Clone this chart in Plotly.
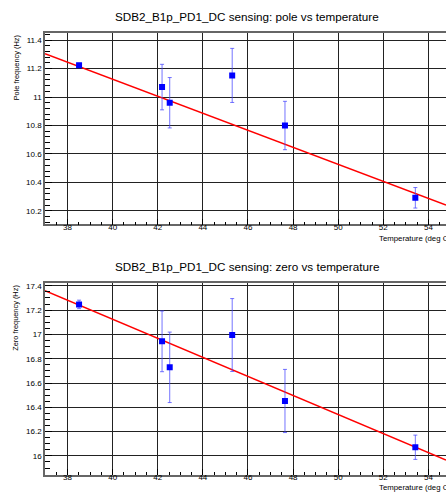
import plotly.graph_objects as go

# ---- data ----
temperature = [38.51, 42.19, 42.53, 45.30, 47.64, 53.42]
pole_freq = [11.224, 11.07, 10.96, 11.152, 10.80, 10.292]
pole_err = [0.013, 0.16, 0.177, 0.19, 0.17, 0.072]
zero_freq = [17.247, 16.943, 16.729, 16.995, 16.452, 16.071]
zero_err = [0.035, 0.25, 0.29, 0.30, 0.26, 0.10]
pole_fit = [13.5176, -0.0598]   # intercept, slope
zero_fit = [20.2598, -0.0784]
x_range = [37.0, 54.78]
pole_range = [10.105, 11.451]
zero_range = [15.842, 17.422]

W, H = 446, 493
L = 45
def px_x(p):
    return (p - L) / (W - L)
def px_y(p):
    return 1 - p / H

fig = go.Figure()

top_dom = [px_y(223.3), px_y(31)]
bot_dom = [px_y(475), px_y(282.3)]

def add_panel(xa, ya, yvals, yerr, fit):
    fx = x_range
    fy = [fit[0] + fit[1] * v for v in fx]
    fig.add_trace(go.Scatter(x=fx, y=fy, mode="lines", line=dict(color="#ff0000", width=1.5),
                             xaxis=xa, yaxis=ya, showlegend=False, hoverinfo="skip"))
    fig.add_trace(go.Scatter(x=temperature, y=yvals, mode="markers",
                             marker=dict(symbol="square", size=6, color="#0000ff"),
                             error_y=dict(type="data", array=yerr, color="rgba(70,70,255,0.75)",
                                          thickness=1, width=2),
                             xaxis=xa, yaxis=ya, showlegend=False))

add_panel("x", "y", pole_freq, pole_err, pole_fit)
add_panel("x2", "y2", zero_freq, zero_err, zero_fit)

FONT = "Liberation Sans, Arial, sans-serif"
tickfont = dict(family=FONT, size=8, color="#000")
xcommon = dict(range=x_range, showgrid=True, gridcolor="#222", gridwidth=1,
               tick0=38, dtick=2, ticks="inside", ticklen=6, tickcolor="#000",
               ticklabelstandoff=-6,
               minor=dict(dtick=0.5, ticks="inside", ticklen=3, tickcolor="#000", showgrid=False),
               showline=True, linecolor="#666", linewidth=1.5, mirror=True,
               zeroline=False, tickfont=tickfont, fixedrange=True)
ycommon = dict(showgrid=True, gridcolor="#222", gridwidth=1, dtick=0.2, tick0=0,
               ticks="inside", ticklen=7, tickcolor="#000",
               showline=True, linecolor="#666", linewidth=1.5, mirror=False,
               zeroline=False, tickfont=tickfont, fixedrange=True)

fig.update_layout(
    width=W, height=H,
    margin=dict(l=L, r=0, t=0, b=0),
    paper_bgcolor="white", plot_bgcolor="white",
    xaxis=dict(domain=[0, 1], anchor="y", **xcommon),
    yaxis=dict(domain=top_dom, anchor="x", range=pole_range,
               minor=dict(dtick=0.04, ticks="inside", ticklen=5, tickcolor="#000", showgrid=False),
               **ycommon),
    xaxis2=dict(domain=[0, 1], anchor="y2", **xcommon),
    yaxis2=dict(domain=bot_dom, anchor="x2", range=zero_range,
                minor=dict(dtick=0.05, ticks="inside", ticklen=5, tickcolor="#000", showgrid=False),
                **ycommon),
)

titlefont = dict(family=FONT, size=11.7, color="#000")
labfont = dict(family=FONT, size=7.8, color="#000")
ylabfont = dict(family=FONT, size=7.4, color="#000")
ann = [
    dict(text="SDB2_B1p_PD1_DC sensing: pole vs temperature", x=px_x(247), y=px_y(15),
         xanchor="center", yanchor="middle", font=titlefont),
    dict(text="SDB2_B1p_PD1_DC sensing: zero vs temperature", x=px_x(247), y=px_y(266),
         xanchor="center", yanchor="middle", font=titlefont),
    dict(text="Temperature (deg C)", x=px_x(376.5), y=px_y(237.3),
         xanchor="left", yanchor="middle", font=labfont),
    dict(text="Temperature (deg C)", x=px_x(376.5), y=px_y(487.7),
         xanchor="left", yanchor="middle", font=labfont),
    dict(text="Pole frequency (Hz)", x=px_x(16), y=px_y(31),
         xanchor="center", yanchor="top", textangle=-90, font=ylabfont),
    dict(text="Zero frequency (Hz)", x=px_x(16), y=px_y(282),
         xanchor="center", yanchor="top", textangle=-90, font=ylabfont),
]
for a in ann:
    a.update(xref="paper", yref="paper", showarrow=False)
fig.update_layout(annotations=ann)

fig.write_html("out.html", config={"displayModeBar": False})
